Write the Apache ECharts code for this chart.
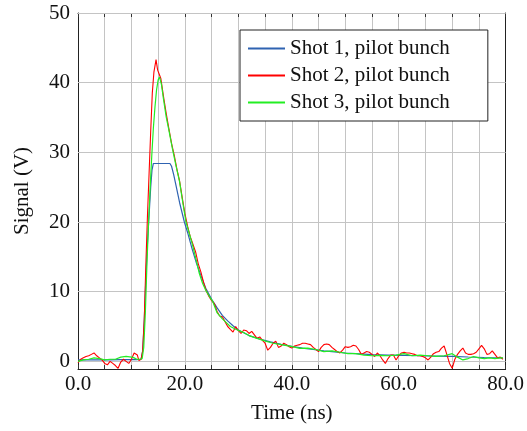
<!DOCTYPE html>
<html>
<head>
<meta charset="utf-8">
<script src="https://cdn.jsdelivr.net/npm/echarts@6/dist/echarts.min.js"></script>
<style>
  html, body { margin: 0; padding: 0; background: #fff; }
  #chart { width: 527px; height: 431px; }
</style>
</head>
<body>
<div id="chart"></div>
<script>
var seriesNames = ['Shot 1, pilot bunch', 'Shot 2, pilot bunch', 'Shot 3, pilot bunch'];
var xTicks = [0, 20, 40, 60, 80];
var yTicks = [0, 10, 20, 30, 40, 50];

// shot 1 (blue, clipped at the top)
var shot1Time = [0, 2, 4, 6, 8, 10, 11, 11.8, 12.1, 12.4, 12.7, 13.0, 13.3, 13.6, 13.85, 14.1,
  17.2, 17.5, 17.9, 18.4, 19.0, 19.9, 20.5, 21.4, 22.2, 23.0, 23.9, 25, 26, 27, 28, 29, 30,
  32, 34, 36, 38, 40, 42, 44, 46, 48, 50, 52, 55, 58, 61, 64, 67, 70, 73, 76, 79.5];
var shot1Signal = [0.2, 0.2, 0.2, 0.2, 0.25, 0.25, 0.25, 0.3, 1.5, 6, 12, 17, 21, 25, 27.5, 28.4,
  28.4, 28, 26.8, 25, 22.8, 20, 18.5, 16, 14, 12.3, 10.5, 8.9, 7.7, 6.6, 5.8, 5.1, 4.5,
  3.7, 3.2, 2.8, 2.45, 2.15, 1.9, 1.7, 1.5, 1.35, 1.2, 1.1, 0.95, 0.9, 0.85, 0.8, 0.75, 0.7, 0.62, 0.55, 0.48];

// shot 2 (red, noisy)
var shot2Time = [
  0, 0.5, 1, 1.5, 2, 2.5, 3, 3.5, 4, 4.5,
  5, 5.5, 6, 6.5, 7, 7.5, 8, 8.5, 9, 9.5,
  10, 10.5, 10.8, 11.1, 11.4, 11.8, 12.1, 12.4, 12.7, 13.0,
  13.3, 13.6, 13.9, 14.2, 14.6, 14.9, 15.2, 15.5,
  16, 16.5, 17, 17.5, 18, 18.5, 19, 19.5, 20, 20.5,
  21, 21.5, 22, 22.5, 23, 23.5, 24, 24.5, 25, 25.5,
  26, 26.5, 27, 27.5, 28, 28.5, 29, 29.5, 30, 30.5,
  31, 31.5, 32, 32.5, 33, 33.5, 34, 34.5, 35, 35.5,
  36, 36.5, 37, 37.5, 38, 38.5, 39, 39.5, 40, 40.5,
  41, 41.5, 42, 42.5, 43, 43.5, 44, 44.5, 45, 45.5,
  46, 46.5, 47, 47.5, 48, 48.5, 49, 49.5, 50, 50.5,
  51, 51.5, 52, 52.5, 53, 53.5, 54, 54.5, 55, 55.5,
  56, 56.5, 57, 57.5, 58, 58.5, 59, 59.5, 60, 60.5,
  61, 61.5, 62, 62.5, 63, 63.5, 64, 64.5, 65, 65.5,
  66, 66.5, 67, 67.5, 68, 68.5, 69, 69.5, 70, 70.5,
  71, 71.5, 72, 72.5, 73, 73.5, 74, 74.5, 75, 75.5,
  76, 76.5, 77, 77.5, 78, 78.5, 79, 79.5];
var shot2Signal = [
  -0.2, 0.3, 0.5, 0.7, 0.8, 1.0, 1.2, 0.8, 0.5, 0.2,
  -0.3, -0.5, 0, -0.3, -0.6, -1.0, -0.1, 0.3, 0, -0.3,
  0.3, 1.2, 1.4, 0.9, 0.1, 0.3, 1.5, 6, 14, 21,
  27, 33, 38.5, 41.5, 43.3, 41.8, 41.2, 40.6,
  38.0, 35.6, 33.4, 31.3, 29.6, 27.6, 25.9, 23.5, 21.2, 19.4,
  17.9, 16.8, 15.7, 14.0, 12.8, 11.3, 10.1, 9.3, 8.7, 8.3,
  7.2, 6.5, 6.4, 5.7, 5.0, 4.6, 4.2, 5.0, 4.4, 4.0,
  4.5, 4.4, 4.0, 4.3, 3.8, 3.3, 3.5, 3.0, 2.6, 1.6,
  2.0, 2.6, 2.9, 2.0, 2.2, 2.6, 2.4, 2.1, 1.9, 2.2,
  2.3, 2.4, 2.6, 2.6, 2.5, 2.4, 2.0, 1.7, 1.4, 2.0,
  2.4, 2.5, 2.4, 2.0, 1.7, 1.4, 1.2, 1.6, 2.1, 2.0,
  2.1, 2.3, 2.2, 1.7, 1.0, 1.2, 1.4, 1.3, 1.0, 0.7,
  1.2, 0.8, 0.2, -0.3, 0.4, 0.9, 0.9, 0.2, 0.8, 1.2,
  1.3, 1.2, 1.2, 1.1, 1.0, 0.8, 0.8, 0.7, 0.5, 0.2,
  0.6, 1.1, 1.3, 1.4, 1.9, 2.2, 1.0, -0.3, -1.0, 0.3,
  1.0, 1.5, 1.9, 1.2, 1.0, 1.0, 1.1, 1.3, 1.8, 2.3,
  1.8, 1.0, 1.1, 1.5, 1.0, 0.5, 0.6, 0.3];

// shot 3 (green)
var shot3Time = [0, 1, 2, 3, 4, 5, 6, 7, 8, 9, 10, 10.5, 11, 11.5, 12.0, 12.3, 12.6, 12.9, 13.2, 13.5,
  13.8, 14.1, 14.4, 14.7, 15.0, 15.25, 15.6, 16.0, 16.5, 17.0, 17.7, 18.3, 19.0, 19.6, 20.2, 20.8,
  21.4, 22.1, 22.7, 23.3, 23.9, 24.6, 25.2, 26, 27, 27.7, 28.5, 29.5, 30.8, 32, 33.5, 35.1, 36.5,
  38, 40.1, 41.5, 43, 44.5, 46, 47.5, 49, 50.5, 52, 53.5, 55, 56.5, 58, 59.5, 61, 62.5, 64, 65.5,
  67, 68.5, 70, 71, 72, 73, 74, 75, 76, 77, 78, 79, 79.5];
var shot3Signal = [0, 0.2, 0.3, 0.5, 0.4, 0.2, 0.3, 0.3, 0.6, 0.7, 0.6, 0.5, 0.3, 0.3, 0.4, 2, 7, 14, 20, 25,
  29.5, 33.5, 36.5, 39, 40.4, 40.8, 39.8, 37.6, 35.1, 33.2, 30.4, 28.2, 25.8, 22.8, 20.0, 18.4,
  16.8, 14.6, 12.6, 11.2, 10.2, 9.3, 8.6, 7.0, 6.1, 5.6, 5.0, 4.6, 4.2, 3.7, 3.3, 2.9, 2.6,
  2.4, 2.1, 1.85, 1.9, 1.7, 1.4, 1.5, 1.3, 1.1, 1.1, 0.9, 0.8, 0.85, 0.8, 0.9, 1.1, 0.8, 0.9, 0.8,
  0.7, 0.8, 1.1, 0.6, 0.2, 0.4, 0.7, 0.5, 0.4, 0.5, 0.4, 0.5, 0.5];

var colors = ['#2f63b1', '#ff0000', '#22ee22'];
var font = 'Liberation Serif';

function pairs(t, v) {
  return t.map(function (x, i) { return [x, v[i]]; });
}

var chart = echarts.init(document.getElementById('chart'));

var frameLine = { show: true, onZero: false, lineStyle: { color: '#222', width: 1 } };
var tickIn = { show: true, inside: true, length: 4, lineStyle: { color: '#333' } };

var option = {
  animation: false,
  color: colors,
  textStyle: { fontFamily: font },
  grid: { left: 78, right: 19, top: 13, bottom: 62 },
  legend: {
    orient: 'vertical',
    left: 240,
    top: 30,
    padding: [8, 38, 8, 8],
    itemGap: 6,
    itemWidth: 37,
    itemHeight: 2,
    icon: 'rect',
    borderColor: '#222',
    borderWidth: 1,
    backgroundColor: '#fff',
    textStyle: { fontFamily: font, fontSize: 21, color: '#111' },
    data: seriesNames
  },
  xAxis: [
    {
      type: 'value', min: 0, max: 80, interval: 5, position: 'bottom',
      name: 'Time (ns)', nameLocation: 'middle', nameGap: 34,
      nameTextStyle: { fontFamily: font, fontSize: 21, color: '#111' },
      axisLine: frameLine, axisTick: tickIn,
      axisLabel: {
        margin: 5, fontFamily: font, fontSize: 21, color: '#111',
        showMinLabel: true, showMaxLabel: true,
        formatter: function (v) { return xTicks.indexOf(v) >= 0 ? v.toFixed(1) : ''; }
      },
      splitLine: { show: true, lineStyle: { color: '#c4c4c4', width: 1 } }
    },
    {
      type: 'value', min: 0, max: 80, interval: 5, position: 'top',
      axisLine: frameLine, axisTick: tickIn, axisLabel: { show: false }, splitLine: { show: false }
    }
  ],
  yAxis: [
    {
      type: 'value', min: -1.1, max: 50, position: 'left',
      name: 'Signal (V)', nameLocation: 'middle', nameGap: 45,
      nameTextStyle: { fontFamily: font, fontSize: 21, color: '#111' },
      axisLine: frameLine,
      axisTick: { show: true, inside: true, length: 4, lineStyle: { color: '#333' }, customValues: yTicks },
      axisLabel: { margin: 8, fontFamily: font, fontSize: 21, color: '#111', customValues: yTicks },
      splitLine: { show: false }
    },
    {
      type: 'value', min: -1.1, max: 50, position: 'right',
      axisLine: frameLine,
      axisTick: { show: true, inside: true, length: 4, lineStyle: { color: '#333' }, customValues: yTicks },
      axisLabel: { show: false, customValues: yTicks },
      splitLine: { show: false }
    }
  ],
  series: [
    {
      name: seriesNames[0], type: 'line', symbol: 'none', z: 2,
      lineStyle: { width: 1.2 },
      data: pairs(shot1Time, shot1Signal),
      markLine: {
        silent: true, symbol: 'none', label: { show: false }, z: 1,
        lineStyle: { color: '#c4c4c4', width: 1, type: 'solid' },
        data: yTicks.map(function (y) { return { yAxis: y }; })
      }
    },
    {
      name: seriesNames[1], type: 'line', symbol: 'none', z: 3,
      lineStyle: { width: 1.1 },
      data: pairs(shot2Time, shot2Signal)
    },
    {
      name: seriesNames[2], type: 'line', symbol: 'none', z: 4,
      lineStyle: { width: 1.2 },
      data: pairs(shot3Time, shot3Signal)
    }
  ]
};

chart.setOption(option);
</script>
</body>
</html>
